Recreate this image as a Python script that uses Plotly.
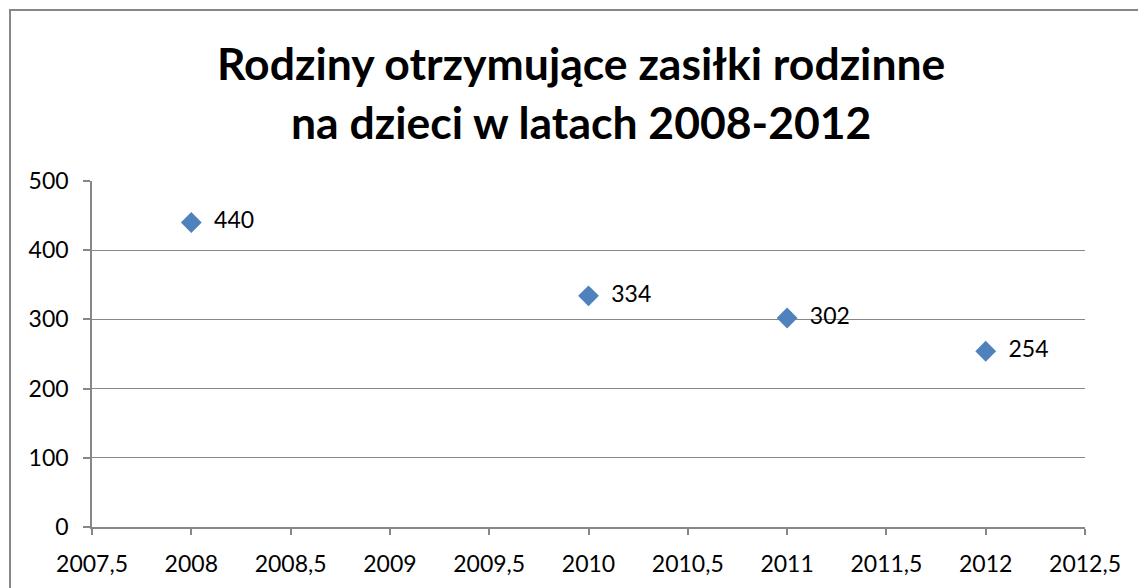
import plotly.graph_objects as go

years = [2008, 2010, 2011, 2012]
families = [440, 334, 302, 254]
x_ticks = [2007.5, 2008, 2008.5, 2009, 2009.5, 2010, 2010.5, 2011, 2011.5, 2012, 2012.5]
x_labels = ["2007,5", "2008", "2008,5", "2009", "2009,5", "2010", "2010,5", "2011", "2011,5", "2012", "2012,5"]
y_ticks = [0, 100, 200, 300, 400, 500]
title_lines = ["Rodziny otrzymujące zasiłki rodzinne", "na dzieci w latach 2008-2012"]

W, H = 1138, 588
L, R, T, B = 92, 1085, 181, 527
FONT = "Lato, 'Open Sans', sans-serif"
GRAY = "#878787"

fig = go.Figure()
fig.add_trace(go.Scatter(
    x=years, y=families, mode="markers+text",
    text=[f"  {v}" for v in families], textposition="middle right",
    textfont=dict(family=FONT, size=23, color="#000"),
    marker=dict(symbol="diamond", size=16, color="#4F81BD"),
    cliponaxis=False, showlegend=False,
))

fig.update_layout(
    width=W, height=H,
    margin=dict(l=L, r=W - R, t=T, b=H - B, pad=0),
    paper_bgcolor="white", plot_bgcolor="white",
    font=dict(family=FONT, size=23, color="#000"),
    xaxis=dict(range=[2007.5, 2012.5], tickvals=x_ticks, ticktext=x_labels,
               showgrid=False, zeroline=False, showline=True, linecolor=GRAY, linewidth=1.5,
               ticks="outside", ticklen=6, tickcolor=GRAY, tickwidth=1.5, ticklabelstandoff=10),
    yaxis=dict(range=[0, 500], tickvals=y_ticks, showgrid=True, gridcolor=GRAY, gridwidth=1,
               zeroline=False, showline=True, linecolor=GRAY, linewidth=1.5,
               ticks="outside", ticklen=7, tickcolor=GRAY, tickwidth=1.5, ticklabelstandoff=10),
    shapes=[dict(type="rect", xref="paper", yref="paper",
                 x0=(10 - L) / (R - L), x1=(W + 20 - L) / (R - L),
                 y0=(B - (H + 20)) / (B - T), y1=(B - 10) / (B - T),
                 line=dict(color=GRAY, width=2), layer="below")],
    annotations=[
        dict(text=f"<b>{title_lines[0]}</b>", xref="paper", yref="paper",
             x=(581 - L) / (R - L), y=(B - 62) / (B - T), xanchor="center", yanchor="middle",
             showarrow=False, font=dict(family=FONT, size=44.5, color="#000")),
        dict(text=f"<b>{title_lines[1]}</b>", xref="paper", yref="paper",
             x=(581 - L) / (R - L), y=(B - 122) / (B - T), xanchor="center", yanchor="middle",
             showarrow=False, font=dict(family=FONT, size=44.5, color="#000")),
    ],
)

fig.write_html("out.html", config={"displayModeBar": False},
               post_script="document.body.style.margin='0';document.body.style.overflow='hidden';")
